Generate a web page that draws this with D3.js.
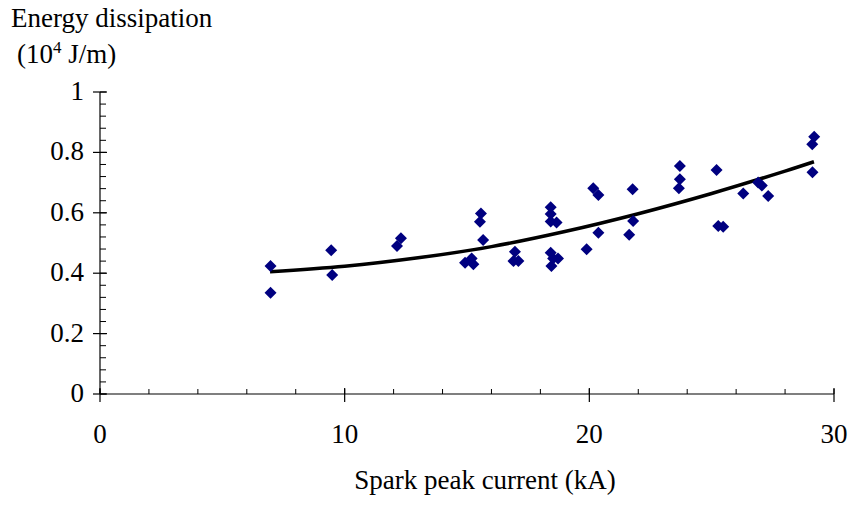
<!DOCTYPE html>
<html><head><meta charset="utf-8">
<script src="https://cdn.jsdelivr.net/npm/d3@7"></script>
</head><body style="margin:0"><svg id="c" width="851" height="508"></svg>
<script>
const current = [6.97,6.97,9.45,9.49,12.14,12.3,14.92,15.19,15.26,15.53,15.57,15.66,16.9,16.96,17.1,
  18.42,18.42,18.42,18.66,18.42,18.52,18.72,18.45,19.89,20.16,20.37,20.37,21.63,21.77,21.79,
  23.66,23.70,23.70,25.2,25.27,25.47,26.29,26.9,27.05,27.31,29.11,29.12,29.19];
const energy = [0.424,0.335,0.476,0.394,0.49,0.516,0.435,0.449,0.43,0.57,0.598,0.51,0.44,0.471,0.44,
  0.618,0.596,0.571,0.568,0.468,0.449,0.449,0.424,0.479,0.681,0.659,0.534,0.527,0.678,0.573,
  0.681,0.711,0.755,0.742,0.556,0.554,0.664,0.70,0.69,0.656,0.827,0.734,0.852];
const trendX = [6.95,10,13,16,19,22,25,28,29.18];
const trendY = [0.405,0.423,0.451,0.488,0.538,0.597,0.664,0.738,0.769];
const xTicks = [0,10,20,30];
const yTicks = [0,0.2,0.4,0.6,0.8,1];

const svg = d3.select("#c");
const x = d3.scaleLinear().domain([0,30]).range([100,834]);
const y = d3.scaleLinear().domain([0,1]).range([394,92]);
const fs = 27;

// axes
const gx = svg.append("g").attr("transform","translate(0,394)");
gx.append("line").attr("x1",x(0)).attr("x2",x(30)).attr("stroke","#000").attr("stroke-width",1.2);
gx.selectAll(".mn").data(d3.range(0,30.01,2)).join("line")
  .attr("x1",d=>x(d)).attr("x2",d=>x(d)).attr("y1",-5).attr("y2",0).attr("stroke","#000");
gx.selectAll(".mj").data(xTicks).join("line")
  .attr("x1",d=>x(d)).attr("x2",d=>x(d)).attr("y1",-6).attr("y2",8).attr("stroke","#000").attr("stroke-width",1.2);
gx.selectAll("text").data(xTicks).join("text")
  .style("font-family",'"Liberation Serif"').attr("font-size",fs)
  .attr("x",d=>x(d)).attr("y",49).attr("text-anchor","middle").text(d=>d);

const gy = svg.append("g").attr("transform","translate(100,0)");
gy.append("line").attr("y1",y(0)).attr("y2",y(1)).attr("stroke","#000").attr("stroke-width",1.2);
gy.selectAll(".mn").data(d3.range(0,1.001,0.04)).join("line")
  .attr("y1",d=>y(d)).attr("y2",d=>y(d)).attr("x1",0).attr("x2",6).attr("stroke","#000");
gy.selectAll(".mj").data(yTicks).join("line")
  .attr("y1",d=>y(d)).attr("y2",d=>y(d)).attr("x1",-7).attr("x2",7).attr("stroke","#000").attr("stroke-width",1.2);
gy.selectAll("text").data(yTicks).join("text")
  .style("font-family",'"Liberation Serif"').attr("font-size",fs)
  .attr("x",-16).attr("y",d=>y(d)+8).attr("text-anchor","end").text(d=>d);

// titles
const titles = ["Energy dissipation","Spark peak current (kA)"];
svg.append("text").style("font-family",'"Liberation Serif"').attr("font-size",fs)
  .attr("x",11).attr("y",27).text(titles[0]);
const t2 = svg.append("text").style("font-family",'"Liberation Serif"').attr("font-size",fs)
  .attr("x",17).attr("y",63);
t2.append("tspan").text("(10");
t2.append("tspan").attr("dy",-10).attr("font-size",17).text("4");
t2.append("tspan").attr("dy",10).text(" J/m)");
svg.append("text").style("font-family",'"Liberation Serif"').attr("font-size",fs)
  .attr("x",485).attr("y",489).attr("text-anchor","middle").text(titles[1]);

// trend line
const pts = trendX.map((d,i)=>[d,trendY[i]]);
svg.append("path").datum(pts)
  .attr("d", d3.line().x(d=>x(d[0])).y(d=>y(d[1])).curve(d3.curveCatmullRom))
  .attr("fill","none").attr("stroke","#000").attr("stroke-width",3.5);

// points
const data = current.map((d,i)=>[d,energy[i]]);
const r = 6;
svg.selectAll(".pt").data(data).join("path")
  .attr("d", d=>{const cx=x(d[0]), cy=y(d[1]); return `M${cx},${cy-r}L${cx+r},${cy}L${cx},${cy+r}L${cx-r},${cy}Z`;})
  .attr("fill","#000080");
</script></body></html>
